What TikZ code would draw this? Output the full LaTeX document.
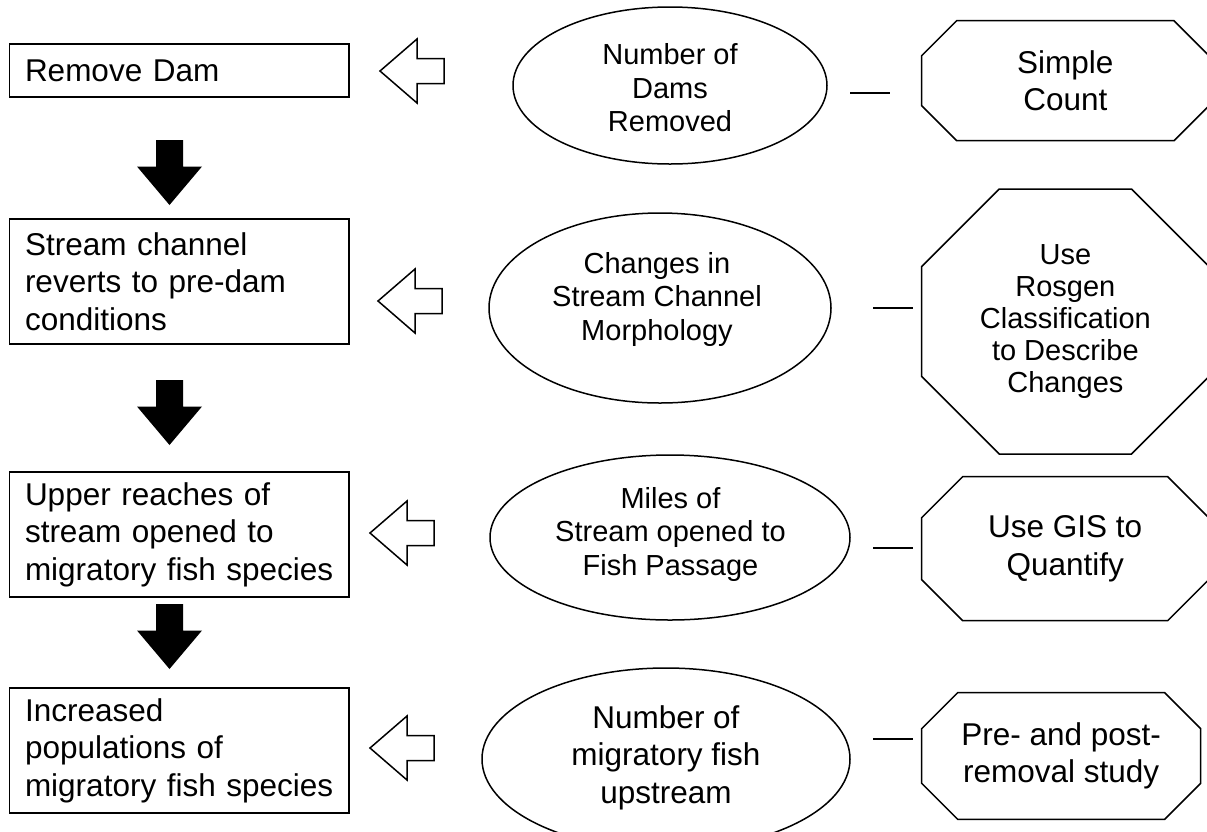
\documentclass[tikz,border=0pt]{standalone}
\usepackage{fontspec}
\setmainfont{Liberation Sans}
\usetikzlibrary{shapes.geometric}

% text sizes used in the chart
\newcommand\txtbig{\fontsize{31.5}{37.5}\selectfont}
\newcommand\txtsmall{\fontsize{29}{33.5}\selectfont}
\newcommand\txtsmalltight{\fontsize{29}{32}\selectfont}

% octagon drawn around a named node, #2 = size of the cut corners
\newcommand\octpath[2]{%
  \draw[octline] ([xshift=#2]#1.north west) -- ([xshift=-#2]#1.north east)
    -- ([yshift=-#2]#1.north east) -- ([yshift=#2]#1.south east)
    -- ([xshift=-#2]#1.south east) -- ([xshift=#2]#1.south west)
    -- ([yshift=#2]#1.south west) -- ([yshift=-#2]#1.north west) -- cycle;}

\tikzset{
  stepbox/.style={draw, line width=1.6pt, minimum width=339.5pt,
    text width=308.5pt, align=left, inner xsep=15.5pt, inner ysep=0pt,
    outer sep=0pt, font=\txtbig},
  oval/.style={draw, ellipse, line width=1.5pt, inner sep=0pt, outer sep=0pt},
  ovaltext/.style={align=center, inner sep=0pt},
  octbox/.style={align=center, inner sep=0pt, outer sep=0pt},
  octline/.style={line width=1.5pt, line join=miter},
  tick/.style={line width=1.5pt},
  downblock/.pic={\fill (-13.5,0) -- (13.5,0) -- (13.5,26.5) -- (32.5,26.5)
    -- (0,65) -- (-32.5,26.5) -- (-13.5,26.5) -- cycle;},
  leftblock/.pic={\draw[line width=1.5pt, line join=miter] (0,0) -- (37,-32)
    -- (37,-12.5) -- (64,-12.5) -- (64,12.5) -- (37,12.5) -- (37,32) -- cycle;}
}

\begin{document}
\begin{tikzpicture}[x=1pt, y=-1pt]
\useasboundingbox (0,0) rectangle (1207,831);

% chain of outcomes on the left
\node[stepbox, minimum height=53pt]  (b1) at (179.25,70.5)  {Remove Dam};
\node[stepbox, minimum height=125pt] (b2) at (179.25,281.5) {Stream channel\\reverts to pre-dam\\conditions};
\node[stepbox, minimum height=125pt] (b3) at (179.25,534.5) {Upper reaches of\\stream opened to\\migratory fish species};
\node[stepbox, minimum height=125pt] (b4) at (179.25,750.5) {Increased\\populations of\\migratory fish species};

% solid arrows between the outcomes
\pic at (169.5,140) {downblock};
\pic at (169.5,380) {downblock};
\pic at (169.5,604) {downblock};

% hollow arrows pointing from the indicators to the outcomes
\pic at (380,71)  {leftblock};
\pic at (378,301) {leftblock};
\pic at (370,533) {leftblock};
\pic at (370,748) {leftblock};

% indicators
\node[oval, minimum width=314pt, minimum height=157pt] (e1) at (670,85.5) {};
\node[ovaltext, font=\txtsmall] (e1t) at (670,88) {Number of\\Dams\\Removed};
\node[oval, minimum width=342pt, minimum height=190pt] (e2) at (660,308) {};
\node[ovaltext, font=\txtsmall] (e2t) at (657,299) {Changes in\\Stream Channel\\Morphology};
\node[oval, minimum width=360pt, minimum height=165pt] (e3) at (670,537.5) {};
\node[ovaltext, font=\txtsmall] (e3t) at (670.5,534) {Miles of\\Stream opened to\\Fish Passage};
\node[oval, minimum width=368pt, minimum height=182pt] (e4) at (666,759) {};
\node[ovaltext, font=\txtbig] (e4t) at (666,757.5) {Number of\\migratory fish\\upstream};

% measurement methods
\node[octbox, font=\txtbig, minimum width=287.3pt, minimum height=120pt] (o1) at (1065.35,80.7) {Simple\\Count};
\node[octbox, font=\txtsmalltight, minimum width=287.3pt, minimum height=265pt] (o2) at (1065.35,321.5) {Use\\Rosgen\\Classification\\to Describe\\Changes};
\node[octbox, font=\txtbig, minimum width=287pt, minimum height=144pt] (o3) at (1065.2,548.7) {Use GIS to\\Quantify};
\node[octbox, font=\txtbig, minimum width=279pt, minimum height=126.6pt] (o4) at (1061.2,756) {Pre- and post-\\removal study};
\octpath{o1}{35pt}
\octpath{o2}{77.5pt}
\octpath{o3}{41pt}
\octpath{o4}{36pt}

% short links between indicators and methods
\coordinate (l1a) at (850,93);  \coordinate (l1b) at (890,93);
\coordinate (l2a) at (873,308); \coordinate (l2b) at (913,308);
\coordinate (l3a) at (873,548); \coordinate (l3b) at (913,548);
\coordinate (l4a) at (873,739); \coordinate (l4b) at (913,739);
\draw[tick] (l1a) -- (l1b);
\draw[tick] (l2a) -- (l2b);
\draw[tick] (l3a) -- (l3b);
\draw[tick] (l4a) -- (l4b);
\end{tikzpicture}
\end{document}
